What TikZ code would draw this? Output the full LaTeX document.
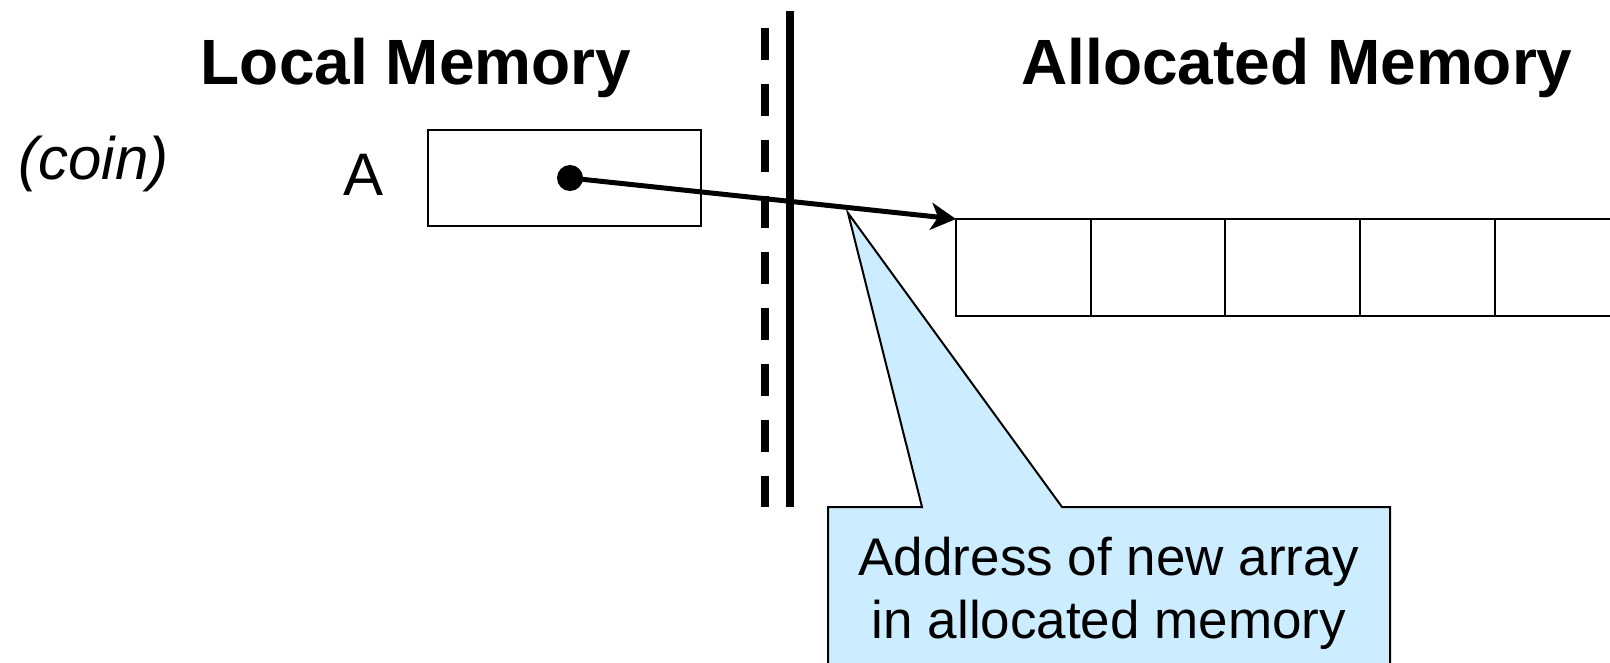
\documentclass[tikz,border=0pt]{standalone}
\usepackage{fontspec}
\setmainfont{Liberation Sans}
\usetikzlibrary{positioning, arrows.meta}
\definecolor{notefill}{RGB}{204,236,255}
\tikzset{heading/.style={font=\bfseries\fontsize{32}{38}\selectfont, inner sep=0pt},
         label/.style={font=\fontsize{30}{36}\selectfont, inner sep=0pt},
         varbox/.style={draw, line width=1pt, minimum width=136.5pt, minimum height=48pt, inner sep=0pt, outer sep=0pt},
         cell/.style={draw, line width=1pt, minimum width=67.35pt, minimum height=48.5pt, inner sep=0pt, outer sep=0pt},
         pointer/.style={line width=2.5pt, -{Stealth[length=12.5pt, width=13.5pt, inset=3.5pt]}},
         notebox/.style={draw, fill=notefill, line width=1pt},
         notetext/.style={font=\fontsize{26.5}{31.5}\selectfont, align=center, inner sep=0pt},
         }
\begin{document}
\begin{tikzpicture}[x=0.5pt, y=-0.5pt]
    \useasboundingbox (0,0) rectangle (1610,663);

    % headings and labels
    \node[heading, anchor=base] (localhd) at (416,85) {Local Memory};
    \node[heading, anchor=base] (allochd) at (1297,85) {Allocated Memory};
    \node[label, anchor=base west, font=\itshape\fontsize{30}{36}\selectfont] (coin) at (18,180) {(coin)};
    \node[label, anchor=base] (varA) at (364,196) {A};

    % local variable
    \node[varbox] (boxA) at (564.5,178) {};
    \node[circle, fill, inner sep=0pt, minimum size=13pt] (ptr) at (570,178) {};

    % the array
    \node[cell] (c1) at (1023.35,267.5) {};
    \node[cell, right=0pt of c1] (c2) {};
    \node[cell, right=0pt of c2] (c3) {};
    \node[cell, right=0pt of c3] (c4) {};
    \node[cell, right=0pt of c4] (c5) {};

    % boundary
    \coordinate (dashtop) at (765,28);
    \coordinate (dashbot) at (765,507);
    \coordinate (walltop) at (790,11);
    \coordinate (wallbot) at (790,507);
    \draw[line width=4pt, dash pattern=on 16pt off 12pt] (dashtop) -- (dashbot);
    \draw[line width=4pt] (walltop) -- (wallbot);

    \draw[pointer] (ptr.center) -- (c1.north west);

    % callout
    \coordinate (tip) at (848,213);
    \draw[notebox] (828,700) |- (922,507) -- (tip) -- (1062,507) -| (1390,700);
    \node[notetext, anchor=base] (addr) at (1109,638) {Address of new array\\in allocated memory};
\end{tikzpicture}
\end{document}
